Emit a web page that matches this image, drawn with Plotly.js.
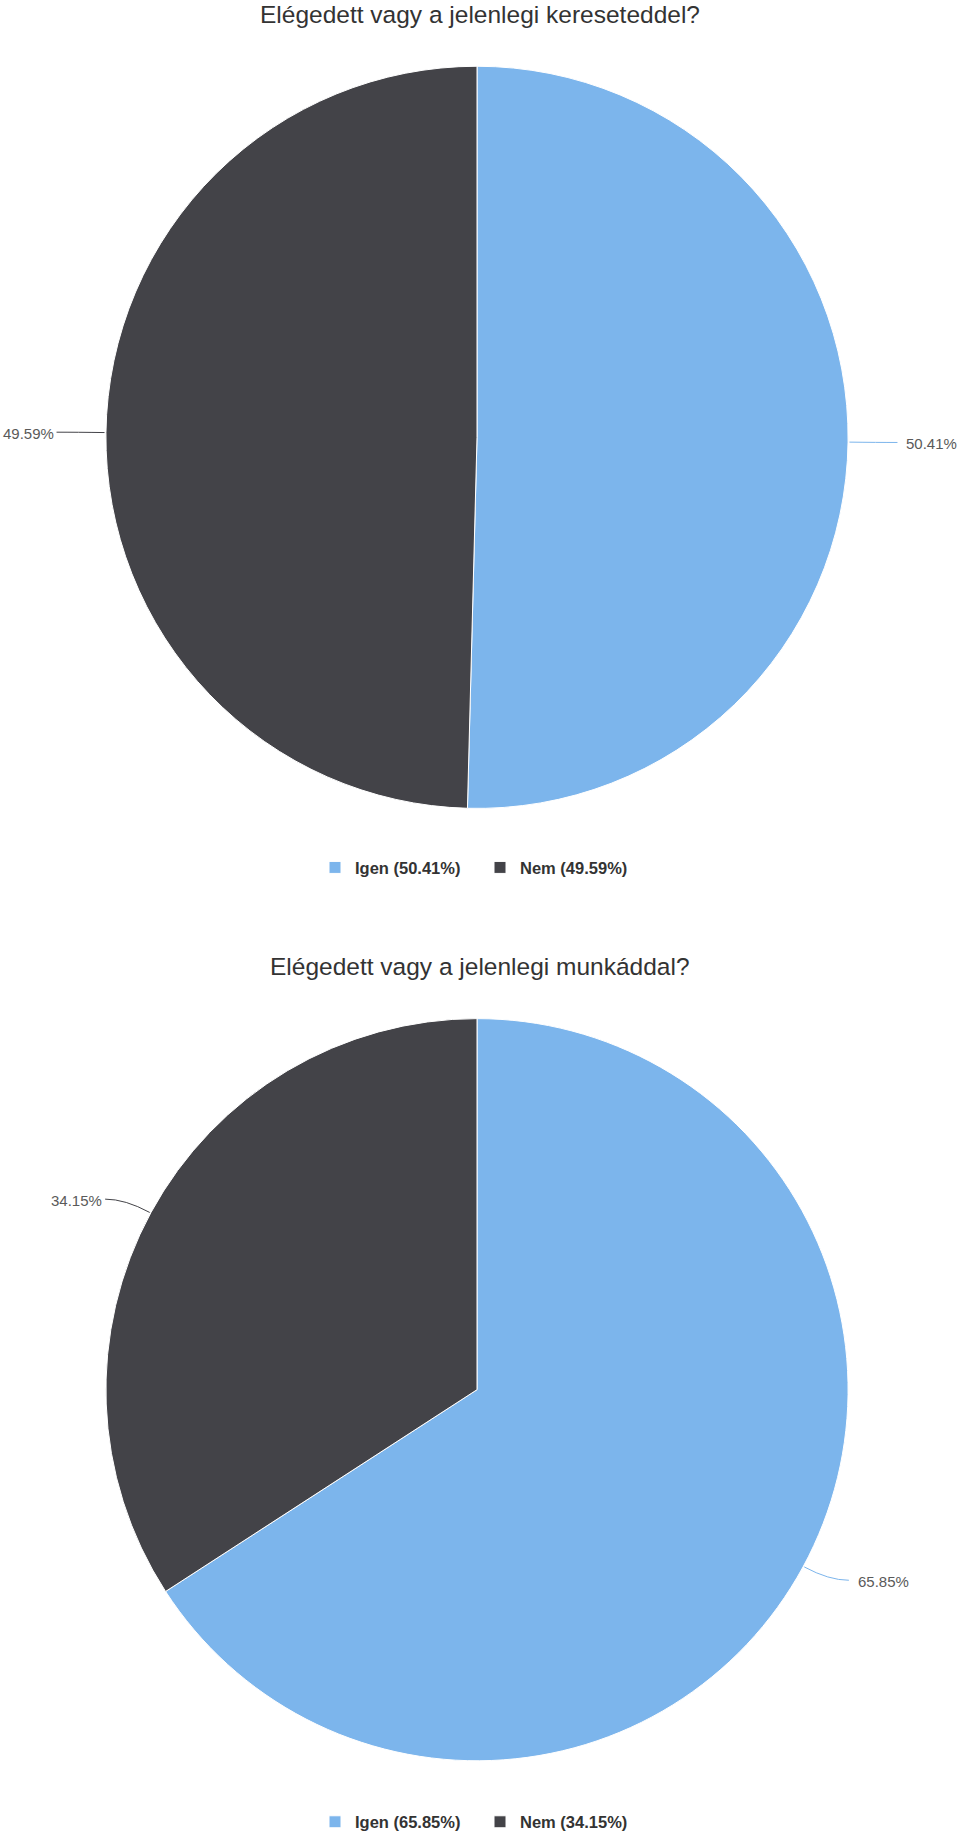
<!DOCTYPE html>
<html>
<head>
<meta charset="utf-8">
<script src="https://cdn.plot.ly/plotly-3.0.1.min.js"></script>
<style>html,body{margin:0;padding:0;background:#fff;}#chart{width:960px;height:1840px;}</style>
</head>
<body>
<div id="chart"></div>
<script>
// ---- data ----
const categories = ['Igen', 'Nem'];
const keresetValues = [50.41, 49.59];
const munkaValues = [65.85, 34.15];
const chartTitles = ['Elégedett vagy a jelenlegi kereseteddel?', 'Elégedett vagy a jelenlegi munkáddal?'];
const sliceColors = ['#7cb5ec', '#434348'];

// ---- layout geometry (pixels) ----
const W = 960, H = 1840;
const pies = [
  {values: keresetValues, cx: 477, cy: 439, r: 372.5, titleY: 15, legendY: 871, legend: 'legend'},
  {values: munkaValues, cx: 477, cy: 1395, r: 372.5, titleY: 970, legendY: 1829, legend: 'legend2'}
];
const px = (x) => x / W;
const py = (y) => 1 - y / H;

const traces = [];
const shapes = [];
const annotations = [];

pies.forEach((p, i) => {
  traces.push({
    type: 'pie',
    labels: categories.map((c, j) => c + ' (' + p.values[j].toFixed(2) + '%)'),
    values: p.values,
    sort: false,
    direction: 'clockwise',
    rotation: 0,
    textinfo: 'none',
    hoverinfo: 'skip',
    marker: {colors: sliceColors, line: {color: '#ffffff', width: 1}},
    domain: {x: [px(p.cx - p.r), px(p.cx + p.r)], y: [py(p.cy + p.r), py(p.cy - p.r)]},
    legend: p.legend,
    showlegend: true
  });
  annotations.push({
    xref: 'paper', yref: 'paper', x: 0.5, y: py(p.titleY),
    xanchor: 'center', yanchor: 'middle', showarrow: false,
    text: chartTitles[i],
    font: {family: 'Liberation Sans, Arial, sans-serif', size: 24.5, color: '#333333'}
  });
  const total = p.values.reduce((a, b) => a + b, 0);
  let cum = 0;
  p.values.forEach((v, j) => {
    const frac = v / total;
    const mid = (cum + frac / 2) * 2 * Math.PI;
    cum += frac;
    const s = Math.sin(mid), c = Math.cos(mid);
    const right = s >= 0;
    const x0 = p.cx + p.r * s, y0 = p.cy - p.r * c;
    const x1 = p.cx + (p.r + 28) * s, y1 = p.cy - (p.r + 28) * c;
    const x2 = x1 + (right ? 20 : -20), y2 = y1;
    shapes.push({
      type: 'path', xref: 'paper', yref: 'paper',
      path: 'M' + px(x0) + ',' + py(y0) + ' Q' + px(x1) + ',' + py(y1) + ' ' + px(x2) + ',' + py(y2),
      line: {color: sliceColors[j], width: 1}
    });
    annotations.push({
      xref: 'paper', yref: 'paper',
      x: px(x1 + (right ? 27 : -21)), y: py(y1 + 1),
      xanchor: right ? 'left' : 'right', yanchor: 'middle', showarrow: false,
      text: v.toFixed(2) + '%',
      font: {family: 'Liberation Sans, Arial, sans-serif', size: 15, color: '#5a5a5a'}
    });
  });
});

const legendFont = {family: 'Liberation Sans, Arial, sans-serif', size: 16.5, color: '#333333', weight: 'bold'};
const legendBase = {orientation: 'h', x: 0.5, xanchor: 'center', yanchor: 'middle', font: legendFont,
  itemclick: false, itemdoubleclick: false, entrywidth: 120, entrywidthmode: 'pixels'};
const layout = {
  width: W, height: H,
  margin: {l: 0, r: 0, t: 0, b: 0},
  paper_bgcolor: '#ffffff',
  plot_bgcolor: '#ffffff',
  shapes: shapes,
  annotations: annotations,
  legend: Object.assign({}, legendBase, {y: py(pies[0].legendY)}),
  legend2: Object.assign({}, legendBase, {y: py(pies[1].legendY)})
};

Plotly.newPlot('chart', traces, layout, {displayModeBar: false, staticPlot: true});
</script>
</body>
</html>
